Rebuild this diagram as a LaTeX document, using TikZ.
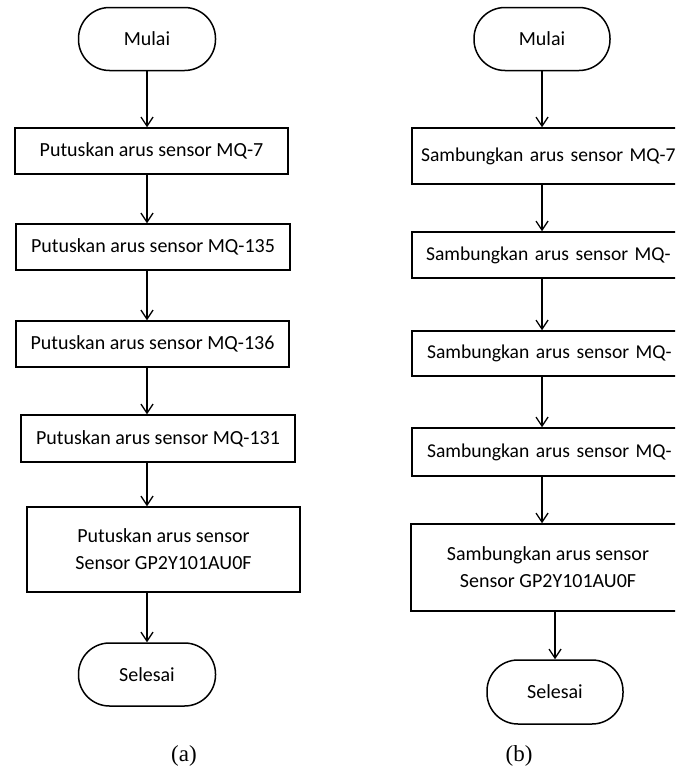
\documentclass[tikz,border=0pt]{standalone}
\usepackage{fontspec}
\setmainfont{Carlito}
\newfontfamily\capfont{Liberation Serif}
\usetikzlibrary{arrows.meta}
\tikzset{
  termbox/.style={draw, line width=1.5pt, rounded corners=31pt, minimum width=137pt, minimum height=63pt, inner sep=0pt, font=\fontsize{20}{26}\selectfont},
  procbox/.style={draw, line width=1.5pt, minimum width=273pt, minimum height=46pt, inner sep=0pt, align=center, font=\fontsize{20}{27}\selectfont},
  rprocbox/.style={draw, line width=1.5pt, minimum height=46pt, inner ysep=0pt, inner xsep=9pt, text width=300pt, align=left, font=\fontsize{19.6}{27}\selectfont},
  flow/.style={line width=1.3pt, -{Straight Barb[length=9pt,width=12pt,line width=1.3pt]}},
  caplabel/.style={font=\capfont\fontsize{23}{26}\selectfont, inner sep=0pt}
}
\begin{document}
\begin{tikzpicture}[x=1pt,y=-1pt]
\useasboundingbox (0,0) rectangle (675,771);
\clip (0,0) rectangle (675,771);
\fill[white] (0,0) rectangle (675,771);
% left chart
\node[termbox] (m1) at (147,39) {Mulai};
\node[procbox] (b1) at (151.5,151) {Putuskan arus sensor MQ-7};
\node[procbox, minimum width=274pt] (b2) at (153,247) {Putuskan arus sensor MQ-135};
\node[procbox] (b3) at (152.5,344) {Putuskan arus sensor MQ-136};
\node[procbox, minimum width=274pt, minimum height=47pt] (b4) at (158,438.5) {Putuskan arus sensor MQ-131};
\node[procbox, minimum height=85pt] (b5) at (163.5,549.5) {Putuskan arus sensor\\Sensor GP2Y101AU0F};
\node[termbox] (e1) at (147,674.5) {Selesai};
\draw[flow] (m1.south) -- (m1.south |- b1.north);
\draw[flow] (b1.south -| m1) -- (b2.north -| m1);
\draw[flow] (b2.south -| m1) -- (b3.north -| m1);
\draw[flow] (b3.south -| m1) -- (b4.north -| m1);
\draw[flow] (b4.south -| m1) -- (b5.north -| m1);
\draw[flow] (b5.south -| e1) -- (e1.north);
\node[caplabel] (la) at (184,756) {(a)};
% right chart (boxes run past the right edge)
\node[termbox, minimum width=136pt] (m2) at (542,39) {Mulai};
\node[rprocbox, minimum height=56pt] (c1) at (571,156) {Sambungkan arus sensor MQ-7};
\node[rprocbox, inner xsep=14pt] (c2) at (576,255) {Sambungkan arus sensor MQ-};
\node[rprocbox, inner xsep=15pt, minimum height=45pt] (c3) at (577,353.5) {Sambungkan arus sensor MQ-};
\node[rprocbox, inner xsep=15pt, minimum height=48pt] (c4) at (577,452) {Sambungkan arus sensor MQ-};
\node[procbox, minimum width=274pt, minimum height=87pt] (c5) at (548,567.5) {Sambungkan arus sensor\\Sensor GP2Y101AU0F};
\node[termbox, minimum width=136pt, minimum height=64pt] (e2) at (555,692) {Selesai};
\draw[flow] (m2.south) -- (m2.south |- c1.north);
\draw[flow] (c1.south -| m2) -- (c2.north -| m2);
\draw[flow] (c2.south -| m2) -- (c3.north -| m2);
\draw[flow] (c3.south -| m2) -- (c4.north -| m2);
\draw[flow] (c4.south -| m2) -- (c5.north -| m2);
\draw[flow] (c5.south -| e2) -- (e2.north);
\node[caplabel] (lb) at (519,756) {(b)};
\end{tikzpicture}
\end{document}
